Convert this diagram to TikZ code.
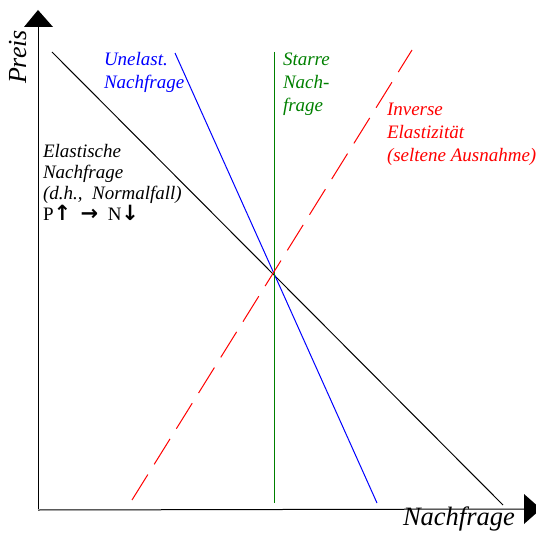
\documentclass[tikz,border=0pt]{standalone}
\usepackage{fontspec}
\setmainfont{Liberation Serif}
\newfontfamily\arrowfont{DejaVu Sans}
\newcommand{\myarr}[1]{{\arrowfont\bfseries\fontsize{21}{21}\selectfont #1}}
\begin{document}
\begin{tikzpicture}[x=1pt,y=-1pt,
  curve/.style={line width=1pt},
  lbl/.style={inner sep=0pt,outer sep=0pt,align=left,anchor=base west,font=\itshape\fontsize{19}{23}\selectfont},
  axis/.style={line width=1pt,black}]
\useasboundingbox (0,0) rectangle (536,535);
\clip (0,0) rectangle (536,535);
% axes
\coordinate (O) at (38,509);
\coordinate (Ytop) at (38,27);
\coordinate (Xend) at (524,509);
\draw[axis] (O) -- (Ytop);
\draw[axis] (38,510) -- (Xend);
\fill (24,27) -- (53,27) -- (38,10) -- cycle;
\fill (524,494) -- (524,524) -- (541,509) -- cycle;
% curves
\coordinate (k1) at (52,52);   \coordinate (k2) at (503,505);
\coordinate (b1) at (175,53);  \coordinate (b2) at (377,503);
\coordinate (g1) at (274,52);  \coordinate (g2) at (274,503);
\coordinate (r1) at (132,500); \coordinate (r2) at (412,50);
\draw[curve,black] (k1) -- (k2);
\draw[curve,blue] (b1) -- (b2);
\draw[curve,green!50!black] (g1) -- (g2);
\draw[curve,red,dash pattern=on 30pt off 12pt] (r1) -- (r2);
% labels
\node[lbl,anchor=base,rotate=90] (preis) at (26,57) {\fontsize{26}{26}\selectfont Preis};
\node[lbl,anchor=base west] (nach) at (403,525) {\fontsize{26.5}{26}\selectfont Nachfrage};
\node[lbl,text=blue,anchor=north west] (unel) at (104,52) {Unelast.\\Nachfrage};
\node[lbl,text=green!50!black,anchor=north west,font=\itshape\fontsize{19}{23}\selectfont] (starr) at (283,53) {Starre\\Nach-\\frage};
\node[lbl,text=red,anchor=north west] (inv) at (387,103) {Inverse\\Elastizität\\(seltene Ausnahme)};
\node[lbl,anchor=north west,font=\itshape\fontsize{19}{21}\selectfont] (elast) at (43,144) {Elastische\\Nachfrage\\(d.h.,\ \ Normalfall)\\\upshape P\myarr{↑}\ \ \myarr{→}\ \ N\myarr{↓}};
\end{tikzpicture}
\end{document}
